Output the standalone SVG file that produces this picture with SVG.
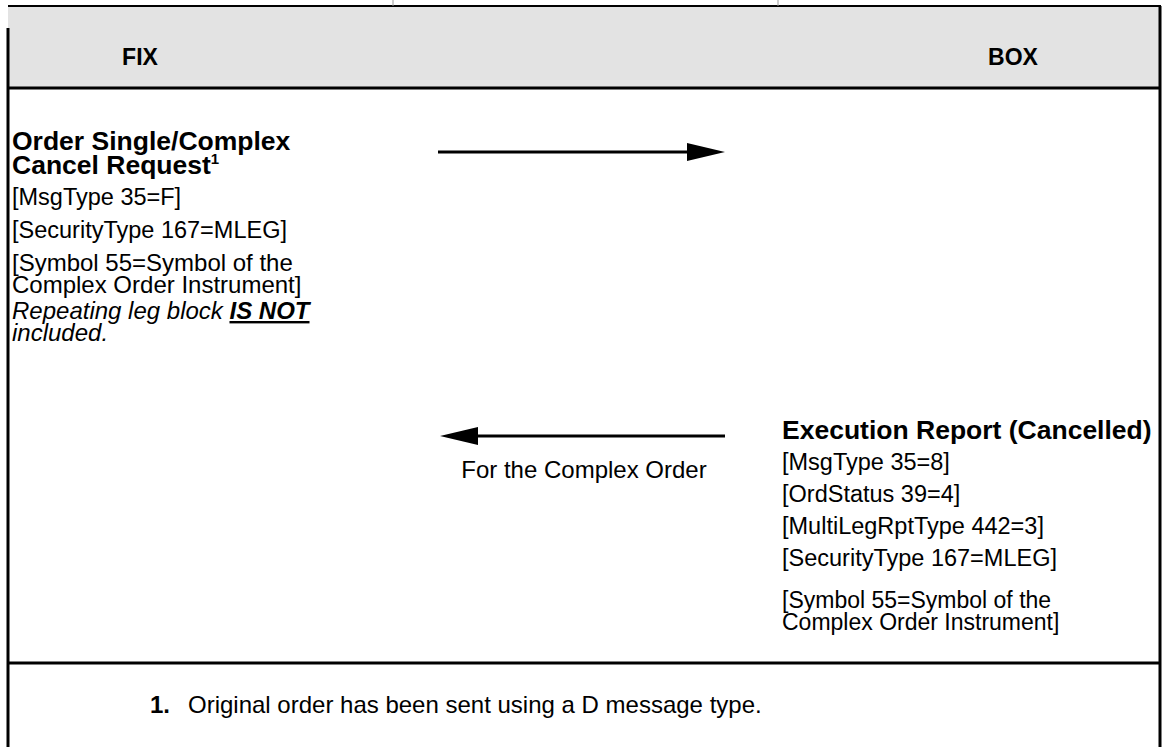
<svg xmlns="http://www.w3.org/2000/svg" width="1165" height="747" viewBox="0 0 1165 747">
<style>
text{font-family:"Liberation Sans",Arial,sans-serif;fill:#000}
.h{font-size:23px;font-weight:bold}
.t{font-size:23.5px}
.w{font-size:24px}
.tb{font-size:26.5px;font-weight:bold}
.i{font-style:italic}
.s{font-size:23px}
.c{font-size:24px}
.ln{stroke:#000;stroke-width:3;fill:none}
</style>
<defs>
<marker id="ah" viewBox="0 0 40 20" refX="0" refY="10" markerWidth="40" markerHeight="20" markerUnits="userSpaceOnUse" orient="auto">
<path d="M0,1 L38,10 L0,19 Z" fill="#000"/>
</marker>
</defs>
<g id="frame">
<rect x="8" y="6" width="1152" height="82" fill="#e3e3e3"/>
<line x1="8" y1="6" x2="1161" y2="6" stroke="#000" stroke-width="2"/>
<line x1="393" y1="0" x2="393" y2="6" stroke="#999" stroke-width="1"/>
<line x1="778" y1="0" x2="778" y2="6" stroke="#999" stroke-width="1"/>
<line x1="8" y1="28" x2="8" y2="747" class="ln"/>
<line x1="1160" y1="6" x2="1160" y2="747" class="ln"/>
<line x1="8" y1="88" x2="1160" y2="88" class="ln"/>
<line x1="8" y1="663" x2="1160" y2="663" class="ln"/>
</g>
<g id="fix-header"><text class="h" x="140" y="65" text-anchor="middle">FIX</text></g>
<g id="box-header"><text class="h" x="1013" y="65" text-anchor="middle">BOX</text></g>
<g id="cancel-request">
<text class="tb" x="12" y="150">Order Single/Complex<tspan x="12" dy="24">Cancel Request</tspan><tspan font-size="15" dy="-10">1</tspan></text>
<text class="t" x="12" y="205">[MsgType 35=F]</text>
<text class="t" x="12" y="238">[SecurityType 167=MLEG]</text>
<text class="w" x="12" y="271">[Symbol 55=Symbol of the<tspan x="12" dy="22">Complex Order Instrument]</tspan></text>
<text class="w i" x="12" y="319">Repeating leg block <tspan font-weight="bold" text-decoration="underline">IS NOT</tspan><tspan x="12" dy="22">included.</tspan></text>
</g>
<g id="execution-report">
<text class="tb" x="782" y="439">Execution Report (Cancelled)</text>
<text class="t" x="782" y="470">[MsgType 35=8]</text>
<text class="t" x="782" y="502">[OrdStatus 39=4]</text>
<text class="t" x="782" y="534">[MultiLegRptType 442=3]</text>
<text class="t" x="782" y="566">[SecurityType 167=MLEG]</text>
<text class="s" x="782" y="608">[Symbol 55=Symbol of the<tspan x="782" dy="22">Complex Order Instrument]</tspan></text>
</g>
<g id="connectors">
<line x1="438" y1="152" x2="687" y2="152" class="ln" marker-end="url(#ah)"/>
<line x1="725" y1="436" x2="478" y2="436" class="ln" marker-end="url(#ah)"/>
<text class="c" x="584" y="478" text-anchor="middle">For the Complex Order</text>
</g>
<g id="footnote">
<text class="w" x="150" y="713"><tspan font-weight="bold">1.</tspan><tspan x="188">Original order has been sent using a D message type.</tspan></text>
</g>
</svg>
